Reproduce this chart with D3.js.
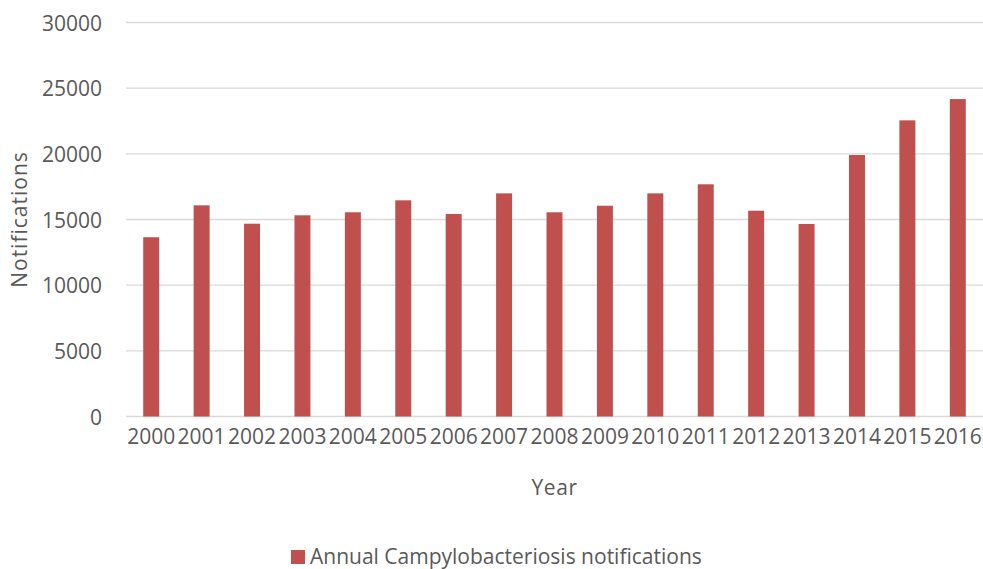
<!DOCTYPE html>
<html>
<head>
<meta charset="utf-8">
<script src="https://cdn.jsdelivr.net/npm/d3@7"></script>
<style>
  html, body { margin: 0; padding: 0; background: #fff; }
  svg { display: block; }
  text { font-family: "Open Sans", sans-serif; fill: #595959; }
</style>
</head>
<body>
<svg id="chart" width="983" height="569"></svg>
<script>
// Annual Campylobacteriosis notifications, 2000–2016
const years = ["2000","2001","2002","2003","2004","2005","2006","2007","2008",
               "2009","2010","2011","2012","2013","2014","2015","2016"];
const notifications = [13650, 16080, 14680, 15320, 15550, 16460, 15420, 16990, 15550,
                       16050, 16990, 17680, 15670, 14660, 19910, 22550, 24170];
const yTicks = [0, 5000, 10000, 15000, 20000, 25000, 30000];
const seriesName = "Annual Campylobacteriosis notifications";

const svg = d3.select("#chart");
const margin = { left: 126, right: 0, top: 22.5, bottom: 152.5 };
const W = 983, H = 569;
const FS = 21;

const x = d3.scaleBand()
  .domain(years)
  .range([margin.left, W - margin.right])
  .paddingInner(0.683)
  .paddingOuter(0.3415);

const y = d3.scaleLinear()
  .domain([0, 30000])
  .range([H - margin.bottom, margin.top]);

// horizontal gridlines
svg.append("g")
  .selectAll("line")
  .data(yTicks)
  .join("line")
  .attr("x1", margin.left)
  .attr("x2", W - margin.right)
  .attr("y1", d => y(d))
  .attr("y2", d => y(d))
  .attr("stroke", "#d9d9d9")
  .attr("stroke-width", 1.3);

// y axis labels
const yAxis = d3.axisLeft(y).tickValues(yTicks).tickFormat(d3.format("d"))
  .tickSize(0).tickPadding(0);
svg.append("g")
  .attr("transform", `translate(${margin.left - 24},0)`)
  .call(yAxis)
  .call(g => g.select(".domain").remove())
  .call(g => g.selectAll("text")
    .attr("font-size", FS)
    .attr("font-family", "Open Sans, sans-serif")
    .attr("fill", "#595959")
    .attr("dy", "0.36em"));

// bars
svg.append("g")
  .selectAll("rect")
  .data(notifications)
  .join("rect")
  .attr("x", (d, i) => x(years[i]))
  .attr("width", x.bandwidth())
  .attr("y", d => y(d))
  .attr("height", d => y(0) - y(d))
  .attr("fill", "#c0504d");

// x axis labels
const xAxis = d3.axisBottom(x).tickSize(0).tickPadding(0);
svg.append("g")
  .attr("transform", `translate(0,${y(0) + 9})`)
  .call(xAxis)
  .call(g => g.select(".domain").remove())
  .call(g => g.selectAll("text")
    .attr("font-size", FS)
    .attr("font-family", "Open Sans, sans-serif")
    .attr("fill", "#595959")
    .attr("dy", "0.9em"));

// axis titles
svg.append("text")
  .attr("x", (margin.left + W - margin.right) / 2)
  .attr("y", 495)
  .attr("text-anchor", "middle")
  .attr("font-size", FS)
  .attr("letter-spacing", 0.6)
  .text("Year");

svg.append("text")
  .attr("transform", `translate(27,${(y(0) + y(30000)) / 2}) rotate(-90)`)
  .attr("text-anchor", "middle")
  .attr("font-size", FS)
  .attr("letter-spacing", 1)
  .text("Notifications");

// legend
const legend = svg.append("g").attr("transform", "translate(291,550)");
legend.append("rect")
  .attr("width", 14).attr("height", 14)
  .attr("fill", "#c0504d");
legend.append("text")
  .attr("x", 19)
  .attr("y", 14)
  .attr("font-size", FS)
  .text(seriesName);
</script>
</body>
</html>
